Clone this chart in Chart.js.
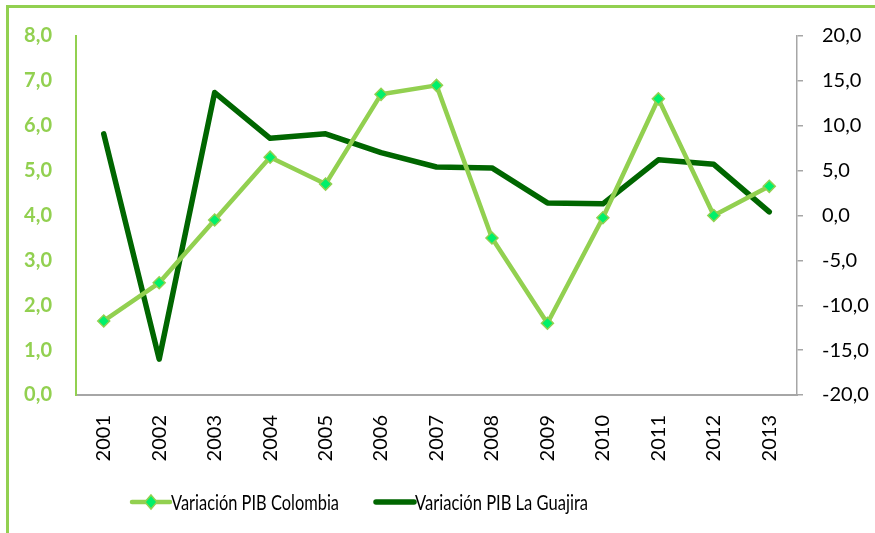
<!DOCTYPE html>
<html>
<head>
<meta charset="utf-8">
<script src="https://cdn.jsdelivr.net/npm/chart.js@4/dist/chart.umd.min.js"></script>
<style>
    html, body { margin: 0; padding: 0; background: #fff; overflow: hidden; }
    #marco { position: absolute; left: 6px; top: 5px; width: 1000px; height: 1000px; border: 3px solid #92D050; }
    #caja { position: absolute; left: 0; top: 0; width: 875px; height: 533px; }
</style>
</head>
<body>
<div id="marco"></div>
<div id="caja"><canvas id="grafico"></canvas></div>
<script>
// datos
const anios = ['2001', '2002', '2003', '2004', '2005', '2006', '2007', '2008', '2009', '2010', '2011', '2012', '2013'];
const pibColombia = [1.65, 2.5, 3.9, 5.3, 4.7, 6.7, 6.9, 3.5, 1.6, 3.95, 6.6, 4.0, 4.65];
const pibGuajira = [9.1, -16.0, 13.7, 8.6, 9.1, 7.0, 5.4, 5.3, 1.4, 1.3, 6.2, 5.7, 0.4];
const nombres = ['Variación PIB Colombia', 'Variación PIB La Guajira'];

const verdeClaro = '#92D050';
const verdeOscuro = '#006600';
const verdeMarca = '#00F06A';
const fuente = 'Lato, "Open Sans", sans-serif';

const coma = v => Number(v).toFixed(1).replace('.', ',');

// leyenda dibujada a mano (Excel no la centra); el texto se estrecha como Calibri
const leyendaExcel = {
    id: 'leyendaExcel',
    afterDraw(chart) {
        const ctx = chart.ctx;
        const y = 502;
        const inicios = [132, 376];
        const anchos = [168, 173];
        ctx.save();
        ctx.font = '22px ' + fuente;
        ctx.textBaseline = 'middle';
        chart.data.datasets.forEach((ds, i) => {
            const x = inicios[i];
            ctx.strokeStyle = ds.borderColor;
            ctx.lineWidth = ds.borderWidth;
            ctx.lineCap = 'round';
            ctx.beginPath();
            ctx.moveTo(x, y);
            ctx.lineTo(x + 38, y);
            ctx.stroke();
            if (i === 0) {
                ctx.fillStyle = verdeMarca;
                ctx.strokeStyle = verdeClaro;
                ctx.lineWidth = 1.5;
                ctx.beginPath();
                ctx.moveTo(x + 19, y - 7);
                ctx.lineTo(x + 25, y);
                ctx.lineTo(x + 19, y + 7);
                ctx.lineTo(x + 13, y);
                ctx.closePath();
                ctx.fill();
                ctx.stroke();
            }
            const w = ctx.measureText(ds.label).width;
            ctx.save();
            ctx.translate(x + 39, y + 1);
            ctx.scale(anchos[i] / w, 1);
            ctx.fillStyle = '#000';
            ctx.fillText(ds.label, 0, 0);
            ctx.restore();
        });
        ctx.restore();
    }
};

new Chart(document.getElementById('grafico'), {
    type: 'line',
    data: {
        labels: anios,
        datasets: [
            {
                label: nombres[0],
                data: pibColombia,
                yAxisID: 'y',
                borderColor: verdeClaro,
                borderWidth: 4.5,
                pointStyle: 'rectRot',
                pointRadius: 6,
                pointBackgroundColor: verdeMarca,
                pointBorderColor: verdeClaro,
                pointBorderWidth: 1.5,
                borderJoinStyle: 'round',
                order: 1
            },
            {
                label: nombres[1],
                data: pibGuajira,
                yAxisID: 'y1',
                borderColor: verdeOscuro,
                borderWidth: 5.5,
                pointRadius: 0,
                borderJoinStyle: 'round',
                borderCapStyle: 'round',
                order: 2
            }
        ]
    },
    options: {
        responsive: true,
        maintainAspectRatio: false,
        animation: false,
        layout: { padding: { top: 34, left: 0, right: 0, bottom: 0 } },
        scales: {
            x: {
                offset: true,
                grid: { display: false, drawTicks: false },
                border: { color: '#A6A6A6', width: 2 },
                ticks: {
                    color: '#000',
                    font: { family: fuente, size: 20 },
                    minRotation: 90,
                    maxRotation: 90,
                    padding: 20
                },
                afterFit(scale) { scale.height = 138; }
            },
            y: {
                position: 'left',
                min: 0,
                max: 8,
                grid: { display: false, drawTicks: false },
                border: { color: verdeClaro, width: 2 },
                ticks: {
                    stepSize: 1,
                    color: verdeClaro,
                    font: { family: fuente, size: 20, weight: 'bold' },
                    padding: 24,
                    callback: v => coma(v)
                },
                afterFit(scale) { scale.width = 76; }
            },
            y1: {
                position: 'right',
                min: -20,
                max: 20,
                grid: { drawOnChartArea: false, drawTicks: true, tickLength: 6, color: '#A6A6A6', lineWidth: 1.5 },
                border: { color: '#A6A6A6', width: 1.5 },
                ticks: {
                    stepSize: 5,
                    color: '#000',
                    font: { family: fuente, size: 20 },
                    padding: 19,
                    callback: v => coma(v)
                },
                afterFit(scale) { scale.width = 78; }
            }
        },
        plugins: {
            legend: { display: false },
            tooltip: { enabled: false }
        }
    },
    plugins: [leyendaExcel]
});
</script>
</body>
</html>
